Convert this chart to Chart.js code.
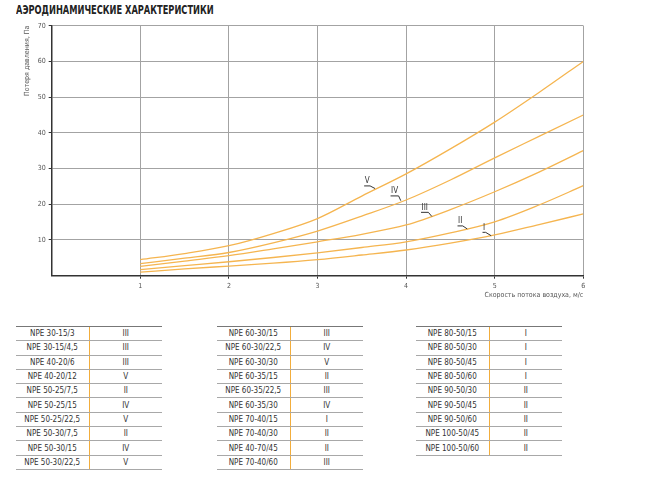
<!DOCTYPE html>
<html>
<head>
<meta charset="utf-8">
<script src="https://cdn.jsdelivr.net/npm/chart.js@4"></script>
<style>
    body { margin: 0; background: #ffffff; width: 650px; height: 477px; overflow: hidden; position: relative; font-family: "Liberation Sans Narrow", "DejaVu Sans Condensed", "Roboto", sans-serif; }
    #title { position: absolute; left: 16px; top: 3px; font-size: 11.5px; font-weight: bold; color: #222; transform: scaleX(0.8); transform-origin: left top; white-space: nowrap; }
    #chart_box { position: absolute; left: 0; top: 0; width: 650px; height: 310px; }
    table.models { position: absolute; top: 326px; width: 146px; border-collapse: collapse; font-size: 8px; color: #333; }
    table.models td { height: 13.3px; padding: 0; text-align: center; border-bottom: 1px solid #a8a8a8; width: 50%; }
    table.models tr:first-child td { border-top: 1px solid #777; }
    table.models td.cls { border-left: 1.5px solid #f2ad3c; }
</style>
</head>
<body>
<div id="title">АЭРОДИНАМИЧЕСКИЕ ХАРАКТЕРИСТИКИ</div>
<div id="chart_box"><canvas id="aero_chart"></canvas></div>

<script>
// скорость потока, м/с
const air_speed = [1, 1.5, 2, 2.5, 3, 3.5, 4, 4.5, 5, 5.5, 6];

// потеря давления, Па
const curve_I   = [1.0, 1.9, 2.7, 3.5, 4.5, 5.8, 7.2, 9.1, 11.4, 14.3, 17.3];
const curve_II  = [1.7, 2.8, 3.9, 5.1, 6.4, 7.9, 9.5, 12.0, 15.1, 19.8, 25.2];
const curve_III = [2.6, 4.1, 5.6, 7.5, 9.5, 11.6, 14.2, 18.5, 23.5, 29.0, 35.0];
const curve_IV  = [3.4, 4.9, 6.5, 9.2, 12.5, 16.7, 21.2, 26.8, 33.0, 39.0, 45.0];
const curve_V   = [4.5, 6.2, 8.4, 11.8, 16.0, 22.3, 28.5, 35.5, 43.0, 51.3, 60.0];

const curve_names = ['I', 'II', 'III', 'IV', 'V'];
// подписи кривых: [x текста, y текста, x конца выноски, y конца выноски]
const curve_label_pos = [
    [4.88, 13.4, 4.96, 11.2],
    [4.61, 15.2, 4.69, 13.1],
    [4.21, 19.0, 4.29, 16.6],
    [3.87, 23.6, 3.94, 21.0],
    [3.56, 26.4, 3.65, 24.4]
];

const table_1_models = ['NPE 30-15/3', 'NPE 30-15/4,5', 'NPE 40-20/6', 'NPE 40-20/12', 'NPE 50-25/7,5', 'NPE 50-25/15', 'NPE 50-25/22,5', 'NPE 50-30/7,5', 'NPE 50-30/15', 'NPE 50-30/22,5'];
const table_1_curves = ['III', 'III', 'III', 'V', 'II', 'IV', 'V', 'II', 'IV', 'V'];
const table_2_models = ['NPE 60-30/15', 'NPE 60-30/22,5', 'NPE 60-30/30', 'NPE 60-35/15', 'NPE 60-35/22,5', 'NPE 60-35/30', 'NPE 70-40/15', 'NPE 70-40/30', 'NPE 40-70/45', 'NPE 70-40/60'];
const table_2_curves = ['III', 'IV', 'V', 'II', 'III', 'IV', 'I', 'II', 'II', 'III'];
const table_3_models = ['NPE 80-50/15', 'NPE 80-50/30', 'NPE 80-50/45', 'NPE 80-50/60', 'NPE 90-50/30', 'NPE 90-50/45', 'NPE 90-50/60', 'NPE 100-50/45', 'NPE 100-50/60'];
const table_3_curves = ['I', 'I', 'I', 'I', 'II', 'II', 'II', 'II', 'II'];

const font_family = '"Liberation Sans Narrow", "DejaVu Sans Condensed", "Roboto", sans-serif';
const line_colour = '#f5b550';

function make_table(models, curves, left)
{
    const table = document.createElement('table');
    table.className = 'models';
    table.style.left = left + 'px';
    models.forEach((name, i) =>
    {
        const row = table.insertRow();
        const c1 = row.insertCell();
        c1.textContent = name;
        const c2 = row.insertCell();
        c2.className = 'cls';
        c2.textContent = curves[i];
    });
    document.body.appendChild(table);
}

make_table(table_1_models, table_1_curves, 16);
make_table(table_2_models, table_2_curves, 217);
make_table(table_3_models, table_3_curves, 416);

const all_curves = [curve_I, curve_II, curve_III, curve_IV, curve_V];

const datasets = all_curves.map((values, i) =>
({
    label: curve_names[i],
    data: values.map((v, j) => ({ x: air_speed[j], y: v })),
    borderColor: line_colour,
    backgroundColor: line_colour,
    borderWidth: 1.3,
    pointRadius: 0,
    cubicInterpolationMode: 'monotone'
}));

// подписи I..V с выносками
const curve_labels =
{
    id: 'curve_labels',
    afterDatasetsDraw(chart)
    {
        const ctx = chart.ctx;
        const xs = chart.scales.x;
        const ys = chart.scales.y;
        ctx.save();
        ctx.font = '8px ' + font_family;
        ctx.fillStyle = '#333';
        ctx.strokeStyle = '#333';
        ctx.lineWidth = 1;
        ctx.textAlign = 'left';
        ctx.textBaseline = 'bottom';
        curve_label_pos.forEach((p, i) =>
        {
            const tx = xs.getPixelForValue(p[0]);
            const ty = ys.getPixelForValue(p[1]);
            const ex = xs.getPixelForValue(p[2]);
            const ey = ys.getPixelForValue(p[3]);
            const w = ctx.measureText(curve_names[i]).width;
            ctx.fillText(curve_names[i], tx - w / 2, ty + 4);
            ctx.beginPath();
            ctx.moveTo(tx - w / 2 - 0.5, ty + 4.5);
            ctx.lineTo(tx + w / 2 + 0.5, ty + 4.5);
            ctx.lineTo(ex, ey);
            ctx.stroke();
        });
        ctx.restore();
    }
};

const hide_zero_tick = (c) => (c.tick && c.tick.value === 0 ? 'rgba(0,0,0,0)' : '#333');

const config =
{
    type: 'line',
    data: { datasets },
    options:
    {
        responsive: true,
        maintainAspectRatio: false,
        animation: false,
        layout:
        {
            padding: { top: 25.7, right: 66.7, bottom: 0, left: 0 }
        },
        scales:
        {
            x:
            {
                type: 'linear',
                min: 0,
                max: 6,
                afterFit: (scale) => { scale.height = 34.3; },
                ticks:
                {
                    stepSize: 1,
                    padding: 3,
                    color: '#555',
                    font: { family: font_family, size: 7 },
                    callback: (v) => (v === 0 ? '' : v)
                },
                grid:
                {
                    color: '#a3a3a3',
                    lineWidth: 1,
                    tickLength: 3,
                    tickColor: hide_zero_tick
                },
                border: { color: '#333', width: 1.5 },
                title:
                {
                    display: true,
                    text: 'Скорость потока воздуха, м/с',
                    align: 'end',
                    color: '#555',
                    font: { family: font_family, size: 7 },
                    padding: { top: 0, bottom: 10.8 }
                }
            },
            y:
            {
                min: 0,
                max: 70,
                afterFit: (scale) => { scale.width = 51.7; },
                ticks:
                {
                    stepSize: 10,
                    padding: 3,
                    color: '#555',
                    font: { family: font_family, size: 7 },
                    callback: (v) => (v === 0 ? '' : v)
                },
                grid:
                {
                    color: '#a3a3a3',
                    lineWidth: 1,
                    tickLength: 3,
                    tickColor: hide_zero_tick
                },
                border: { color: '#333', width: 1.5 },
                title:
                {
                    display: true,
                    text: 'Потеря давления, Па',
                    align: 'end',
                    color: '#555',
                    font: { family: font_family, size: 7 },
                    padding: { top: 22.8, bottom: 0 }
                }
            }
        },
        plugins:
        {
            legend: { display: false },
            tooltip: { enabled: false }
        }
    },
    plugins: [curve_labels]
};

new Chart(document.getElementById('aero_chart'), config);
</script>
</body>
</html>
